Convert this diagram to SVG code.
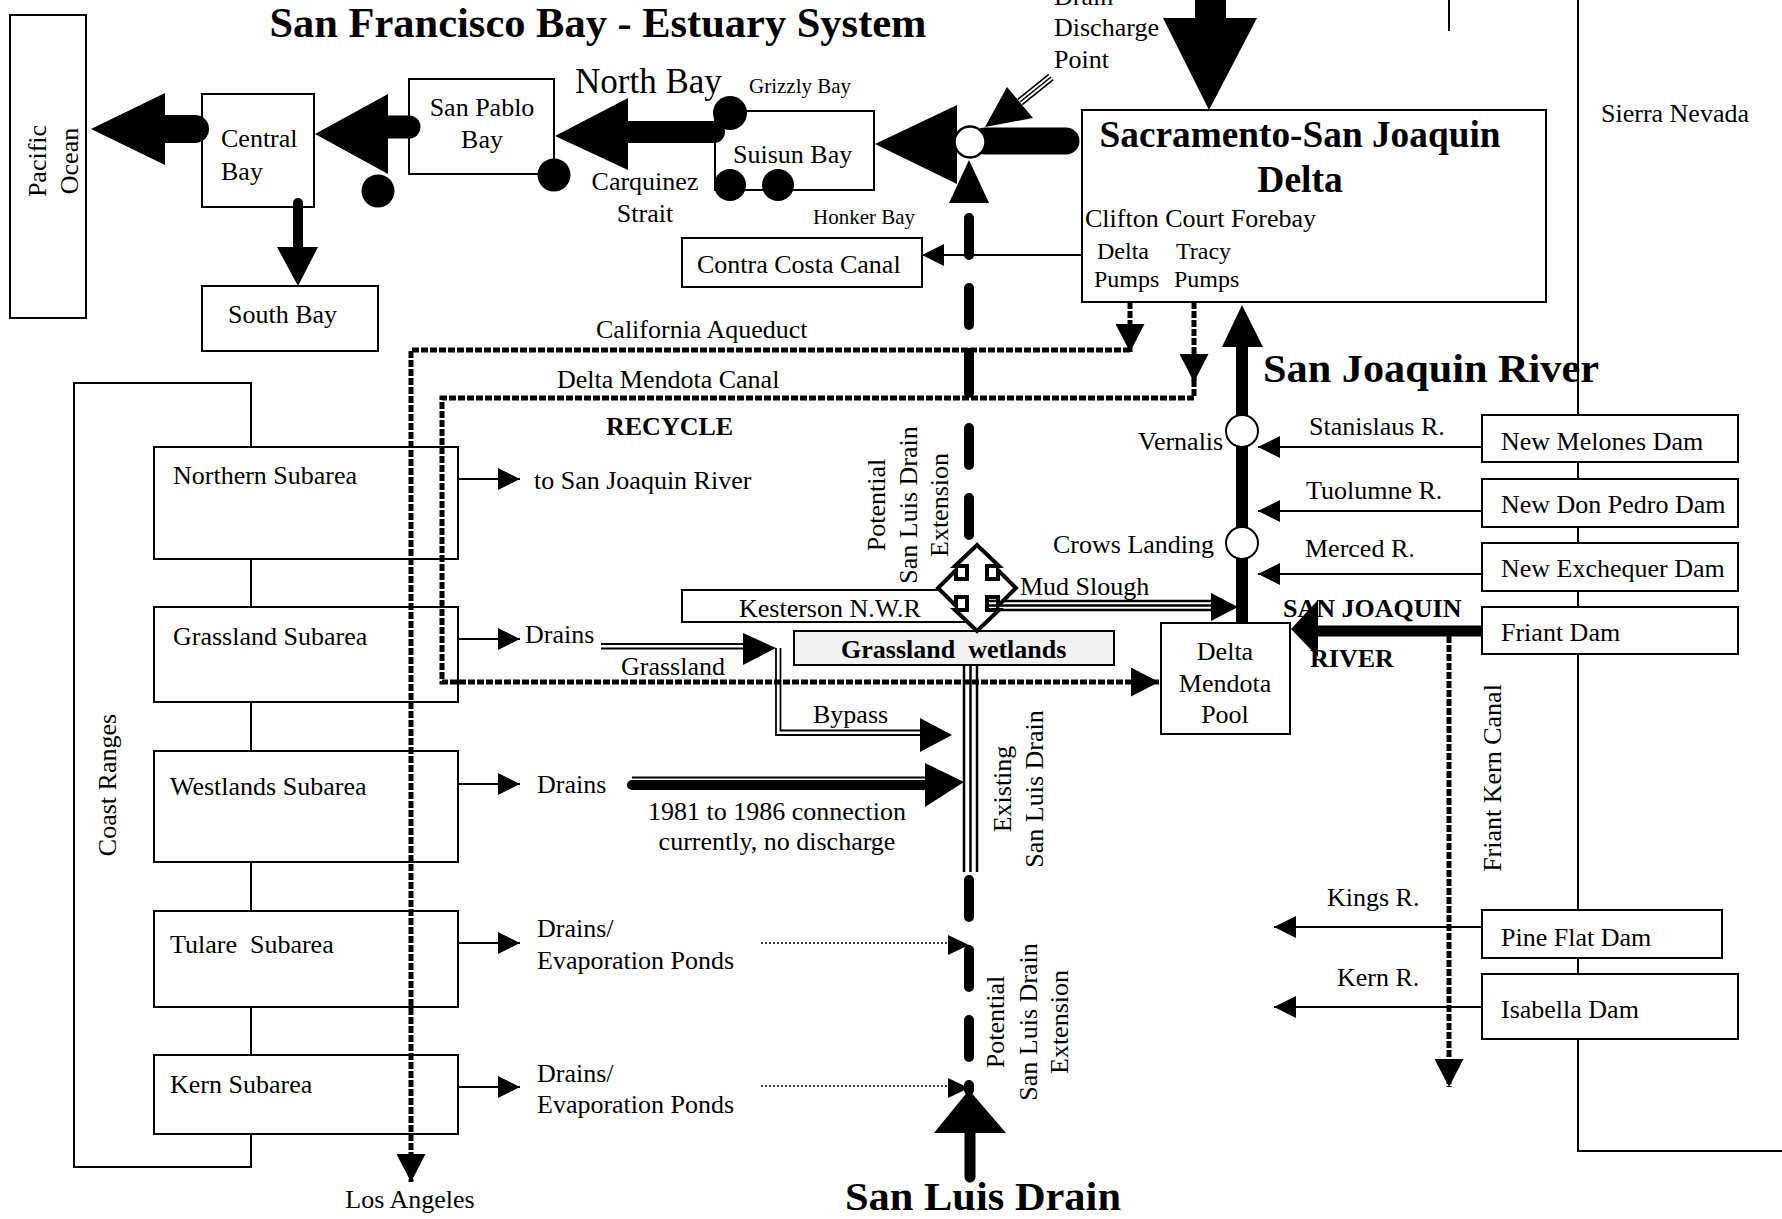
<svg xmlns="http://www.w3.org/2000/svg" width="1782" height="1219" viewBox="0 0 1782 1219">
<style>
text{font-family:"Liberation Serif","Times New Roman",serif;font-size:26px;fill:#000}
.b{font-weight:bold}
.s{font-size:21px}
.p{font-size:24px}
.t{font-size:42px}
.h{font-size:37.5px}
.nb{font-size:35px}
.big{font-size:41px}
.m{text-anchor:middle}
.box{fill:#fff;stroke:#000;stroke-width:2}
.ln{fill:none;stroke:#000;stroke-width:2}
.canal{fill:none;stroke:#000;stroke-width:5;stroke-dasharray:7 2}
.thin{fill:none;stroke:#000;stroke-width:2;marker-end:url(#a)}
.dot{fill:none;stroke:#000;stroke-width:1.5;stroke-dasharray:2 2}
.dash{stroke:#000;stroke-width:10;stroke-linecap:round}
.blk{fill:#000}
</style>
<defs>
<marker id="a" markerUnits="userSpaceOnUse" markerWidth="22" markerHeight="22" refX="22" refY="11" orient="auto"><path d="M0,0 L22,11 L0,22 z" fill="#000"/></marker>
<marker id="c" markerUnits="userSpaceOnUse" markerWidth="28" markerHeight="29" refX="28" refY="14.5" orient="auto"><path d="M0,0 L28,14.5 L0,29 z" fill="#000"/></marker>
</defs>
<rect width="1782" height="1219" fill="#fff"/>

<g id="sierra-nevada">
<path class="ln" d="M1578,0 V1151 H1782"/>
<line class="ln" x1="1449" y1="0" x2="1449" y2="31"/>
<text x="1601" y="122">Sierra Nevada</text>
</g>
<g id="coast-ranges">
<path class="ln" d="M251,447 V383 H74 V1167 H251 V1134"/>
<line class="ln" x1="251" y1="559" x2="251" y2="607"/>
<line class="ln" x1="251" y1="702" x2="251" y2="751"/>
<line class="ln" x1="251" y1="862" x2="251" y2="911"/>
<line class="ln" x1="251" y1="1007" x2="251" y2="1055"/>
<text class="m" transform="translate(116,785) rotate(-90)">Coast Ranges</text>
</g>

<text id="title" class="b m t" x="598" y="37" textLength="657" lengthAdjust="spacingAndGlyphs">San Francisco Bay - Estuary System</text>

<g id="pacific-ocean">
<rect class="box" x="10" y="15" width="76" height="303"/>
<text class="m" transform="translate(46,161) rotate(-90)">Pacific</text>
<text class="m" transform="translate(78,161) rotate(-90)">Ocean</text>
</g>
<g id="central-bay">
<rect class="box" x="202" y="94" width="112" height="113"/>
<text x="221" y="147">Central</text>
<text x="221" y="180">Bay</text>
</g>
<g id="south-bay">
<rect class="box" x="202" y="286" width="176" height="65"/>
<text x="228" y="323">South Bay</text>
</g>
<g id="san-pablo-bay">
<rect class="box" x="409" y="79" width="145" height="95"/>
<text class="m" x="482" y="116">San Pablo</text>
<text class="m" x="482" y="148">Bay</text>
</g>
<g id="suisun-bay">
<rect class="box" x="715" y="111" width="159" height="79"/>
<text x="733" y="163">Suisun Bay</text>
</g>
<g id="contra-costa-canal">
<rect class="box" x="682" y="238" width="240" height="49"/>
<text x="697" y="273">Contra Costa Canal</text>
</g>
<g id="delta">
<rect class="box" x="1082" y="110" width="464" height="192"/>
<text class="b m h" x="1300" y="147" textLength="401" lengthAdjust="spacingAndGlyphs">Sacramento-San Joaquin</text>
<text class="b m h" x="1300" y="192">Delta</text>
<text x="1085" y="227">Clifton Court Forebay</text>
<text class="p" x="1097" y="259">Delta</text>
<text class="p" x="1094" y="287">Pumps</text>
<text class="p" x="1176" y="259">Tracy</text>
<text class="p" x="1174" y="287">Pumps</text>
</g>

<g id="subareas">
<g id="northern-subarea"><rect class="box" x="154" y="447" width="304" height="112"/><text x="173" y="484">Northern Subarea</text></g>
<g id="grassland-subarea"><rect class="box" x="154" y="607" width="304" height="95"/><text x="173" y="645">Grassland Subarea</text></g>
<g id="westlands-subarea"><rect class="box" x="154" y="751" width="304" height="111"/><text x="170" y="795">Westlands Subarea</text></g>
<g id="tulare-subarea"><rect class="box" x="154" y="911" width="304" height="96"/><text x="170" y="953" xml:space="preserve">Tulare  Subarea</text></g>
<g id="kern-subarea"><rect class="box" x="154" y="1055" width="304" height="79"/><text x="170" y="1093">Kern Subarea</text></g>
</g>

<g id="kesterson"><rect class="box" x="682" y="590" width="293" height="32"/><text x="739" y="617">Kesterson N.W.R</text></g>
<g id="grassland-wetlands"><rect x="794" y="631" width="320" height="34" fill="#f2f2f2" stroke="#000" stroke-width="2"/><text class="b" x="841" y="658" xml:space="preserve">Grassland  wetlands</text></g>
<g id="delta-mendota-pool"><rect class="box" x="1161" y="623" width="129" height="111"/>
<text class="m" x="1225" y="660">Delta</text><text class="m" x="1225" y="692">Mendota</text><text class="m" x="1225" y="723">Pool</text></g>

<g id="dams">
<g id="new-melones"><rect class="box" x="1482" y="415" width="256" height="47"/><text x="1501" y="450">New Melones Dam</text></g>
<g id="new-don-pedro"><rect class="box" x="1482" y="479" width="256" height="48"/><text x="1501" y="513">New Don Pedro Dam</text></g>
<g id="new-exchequer"><rect class="box" x="1482" y="543" width="256" height="48"/><text x="1501" y="577">New Exchequer Dam</text></g>
<g id="friant-dam"><rect class="box" x="1482" y="607" width="256" height="47"/><text x="1501" y="641">Friant Dam</text></g>
<g id="pine-flat"><rect class="box" x="1482" y="910" width="240" height="48"/><text x="1501" y="946">Pine Flat Dam</text></g>
<g id="isabella"><rect class="box" x="1482" y="974" width="256" height="65"/><text x="1501" y="1018">Isabella Dam</text></g>
</g>

<g id="connectors">
<line x1="165" y1="129" x2="195" y2="129" stroke="#000" stroke-width="28" stroke-linecap="round"/>
<polygon class="blk" points="91,129 165,93 165,165"/>
<line x1="388" y1="127" x2="409" y2="127" stroke="#000" stroke-width="23" stroke-linecap="round"/>
<polygon class="blk" points="315,134 388,94 388,174"/>
<line x1="298" y1="203" x2="298" y2="248" stroke="#000" stroke-width="10" stroke-linecap="round"/>
<polygon class="blk" points="277,247 318,247 298,286"/>
<line x1="628" y1="132" x2="714" y2="132" stroke="#000" stroke-width="22" stroke-linecap="round"/>
<polygon class="blk" points="555,136 628,98 628,170"/>
<circle class="blk" cx="378" cy="191" r="16.5"/>
<circle class="blk" cx="554" cy="175" r="16.5"/>
<circle class="blk" cx="730" cy="113" r="17"/>
<circle class="blk" cx="730" cy="185" r="16"/>
<circle class="blk" cx="778" cy="185" r="16"/>
<polygon class="blk" points="875,144 957,105 957,184"/>
<line x1="985" y1="141" x2="1066" y2="141" stroke="#000" stroke-width="27" stroke-linecap="round"/>
<circle cx="970" cy="142" r="15.5" fill="#fff" stroke="#000" stroke-width="2.5"/>
<polygon class="blk" points="969,160 949,203 989,203"/>
<rect class="blk" x="1195" y="0" width="31" height="19"/>
<polygon class="blk" points="1163,18 1257,18 1209,110"/>
<g stroke="#000" stroke-width="1.6">
<line x1="1048.8" y1="74.3" x2="1017.8" y2="99.3"/>
<line x1="1051" y1="77" x2="1020" y2="102"/>
<line x1="1053.2" y1="79.7" x2="1022.2" y2="104.7"/>
</g>
<polygon class="blk" points="985,127 1007,87 1033,118"/>
<line class="thin" x1="1082" y1="255" x2="922" y2="255"/>

<line class="dash" x1="969" y1="218" x2="969" y2="255"/>
<line class="dash" x1="969" y1="288" x2="969" y2="325"/>
<line class="dash" x1="969" y1="353" x2="969" y2="393"/>
<line class="dash" x1="969" y1="428" x2="969" y2="465"/>
<line class="dash" x1="969" y1="498" x2="969" y2="535"/>

<path class="canal" d="M1130,350 H411 V1182" marker-end="url(#c)"/>
<line class="canal" x1="1130" y1="302" x2="1130" y2="352" marker-end="url(#c)"/>
<line class="canal" x1="1194" y1="302" x2="1194" y2="382" marker-end="url(#c)"/>
<path class="canal" d="M1194,380 V398 H442 V682 H1159" marker-end="url(#c)"/>
<line class="canal" x1="1449" y1="636" x2="1449" y2="1087" marker-end="url(#c)"/>

<line class="thin" x1="458" y1="479" x2="520" y2="479"/>
<line class="thin" x1="458" y1="639" x2="520" y2="639"/>
<line class="thin" x1="458" y1="784" x2="520" y2="784"/>
<line class="thin" x1="458" y1="943" x2="520" y2="943"/>
<line class="thin" x1="458" y1="1087" x2="520" y2="1087"/>

<g stroke="#000" stroke-width="1.8" fill="none">
<line x1="601" y1="644" x2="745" y2="644"/>
<line x1="601" y1="648.5" x2="745" y2="648.5"/>
<path d="M776,648 V735 H922"/>
<path d="M780.5,648 V730.5 H922"/>
</g>
<polygon class="blk" points="776,648 743,633 743,665"/>
<polygon class="blk" points="952,735 920,718 920,752"/>

<line x1="632" y1="777.5" x2="926" y2="777.5" stroke="#000" stroke-width="2"/>
<line x1="632" y1="785" x2="926" y2="785" stroke="#000" stroke-width="10" stroke-linecap="round"/>
<polygon class="blk" points="964,782 925,763 925,807"/>

<g stroke="#000" stroke-width="2.5">
<line x1="964" y1="665" x2="964" y2="872"/>
<line x1="970.5" y1="665" x2="970.5" y2="872"/>
<line x1="977" y1="665" x2="977" y2="872"/>
</g>

<line class="dash" x1="969" y1="880" x2="969" y2="917"/>
<line class="dash" x1="969" y1="950" x2="969" y2="987"/>
<line class="dash" x1="969" y1="1020" x2="969" y2="1057"/>
<line class="dash" x1="969" y1="1085" x2="969" y2="1090"/>
<line class="dot" x1="761" y1="943" x2="948" y2="943"/>
<polygon class="blk" points="969,945 948,935 948,955"/>
<line class="dot" x1="761" y1="1086" x2="948" y2="1086"/>
<polygon class="blk" points="969,1088 948,1078 948,1098"/>
<polygon class="blk" points="969,1090 934,1133 1006,1133"/>
<line x1="970" y1="1133" x2="970" y2="1177" stroke="#000" stroke-width="11" stroke-linecap="round"/>

<g stroke="#000" stroke-width="2.5">
<line x1="988" y1="601" x2="1212" y2="601"/>
<line x1="988" y1="605.5" x2="1212" y2="605.5"/>
<line x1="988" y1="610" x2="1212" y2="610"/>
</g>
<polygon class="blk" points="1238,607 1211,593 1211,621"/>

<polygon fill="#fff" stroke="#000" stroke-width="4" points="977,545 999,566 987,566 987,579 998,579 998,570 1016,588 998,606 998,597 987,597 987,610 999,610 977,631 955,610 967,610 967,597 956,597 956,606 938,588 956,570 956,579 967,579 967,566 955,566"/>

<line x1="1242" y1="346" x2="1242" y2="624" stroke="#000" stroke-width="12"/>
<polygon class="blk" points="1242,305 1222,347 1263,347"/>
<circle cx="1242" cy="431" r="16" fill="#fff" stroke="#000" stroke-width="2"/>
<circle cx="1242" cy="543" r="16" fill="#fff" stroke="#000" stroke-width="2"/>
<line class="thin" x1="1482" y1="447" x2="1258" y2="447"/>
<line class="thin" x1="1482" y1="511" x2="1258" y2="511"/>
<line class="thin" x1="1482" y1="574" x2="1258" y2="574"/>
<line x1="1482" y1="631" x2="1316" y2="631" stroke="#000" stroke-width="11"/>
<polygon class="blk" points="1291,629 1318,600 1318,657"/>
<line class="thin" x1="1482" y1="927" x2="1274" y2="927"/>
<line class="thin" x1="1482" y1="1007" x2="1274" y2="1007"/>
</g>

<g id="labels">
<text x="1054" y="5">Drain</text>
<text x="1054" y="36">Discharge</text>
<text x="1054" y="68">Point</text>
<text class="nb" x="575" y="93">North Bay</text>
<text class="s" x="749" y="93">Grizzly Bay</text>
<text class="m" x="645" y="190">Carquinez</text>
<text class="m" x="645" y="222">Strait</text>
<text class="s" x="813" y="224">Honker Bay</text>
<text x="596" y="338">California Aqueduct</text>
<text x="557" y="388">Delta Mendota Canal</text>
<text class="b" x="606" y="435">RECYCLE</text>
<text x="534" y="489">to San Joaquin River</text>
<text x="525" y="643">Drains</text>
<text x="621" y="675">Grassland</text>
<text x="813" y="723">Bypass</text>
<text x="537" y="793">Drains</text>
<text class="m" x="777" y="820">1981 to 1986 connection</text>
<text class="m" x="777" y="850">currently, no discharge</text>
<text x="537" y="937">Drains/</text>
<text x="537" y="969">Evaporation Ponds</text>
<text x="537" y="1082">Drains/</text>
<text x="537" y="1113">Evaporation Ponds</text>
<text class="m" x="410" y="1208">Los Angeles</text>
<text class="b big" x="845" y="1210" textLength="276" lengthAdjust="spacingAndGlyphs">San Luis Drain</text>
<text class="m" transform="translate(885,505) rotate(-90)">Potential</text>
<text class="m" transform="translate(917,505) rotate(-90)">San Luis Drain</text>
<text class="m" transform="translate(948,505) rotate(-90)">Extension</text>
<text class="m" transform="translate(1011,789) rotate(-90)">Existing</text>
<text class="m" transform="translate(1043,789) rotate(-90)">San Luis Drain</text>
<text class="m" transform="translate(1004,1022) rotate(-90)">Potential</text>
<text class="m" transform="translate(1037,1022) rotate(-90)">San Luis Drain</text>
<text class="m" transform="translate(1068,1022) rotate(-90)">Extension</text>
<text x="1020" y="595">Mud Slough</text>
<text x="1138" y="450">Vernalis</text>
<text x="1053" y="553">Crows Landing</text>
<text class="b big" x="1263" y="382" textLength="336" lengthAdjust="spacingAndGlyphs">San Joaquin River</text>
<text x="1309" y="435">Stanislaus R.</text>
<text x="1306" y="499">Tuolumne R.</text>
<text x="1305" y="557">Merced R.</text>
<text class="b" x="1283" y="617">SAN JOAQUIN</text>
<text class="b" x="1310" y="667">RIVER</text>
<text class="m" transform="translate(1501,778) rotate(-90)">Friant Kern Canal</text>
<text x="1327" y="906">Kings R.</text>
<text x="1337" y="986">Kern R.</text>
</g>
</svg>
